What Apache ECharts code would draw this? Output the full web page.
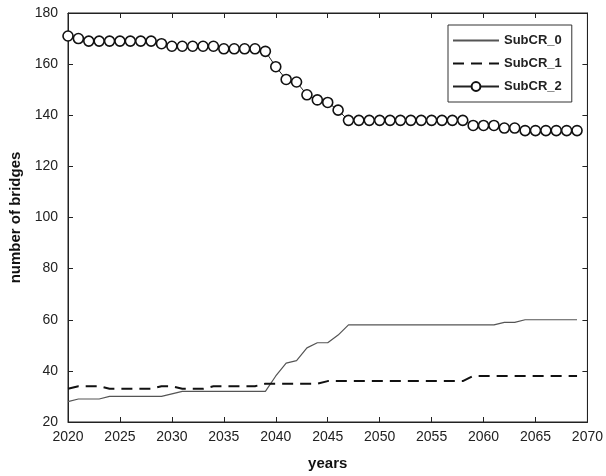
<!DOCTYPE html>
<html>
<head>
<meta charset="utf-8">
<script src="https://cdn.jsdelivr.net/npm/echarts@6/dist/echarts.min.js"></script>
<style>html,body{margin:0;padding:0;background:#fff;}#c{width:606px;height:476px;}</style>
</head>
<body>
<div id="c"></div>
<script>
var years = [];
for (var y = 2020; y <= 2069; y++) years.push(y);
var subCR0 = [28,29,29,29,30,30,30,30,30,30,31,32,32,32,32,32,32,32,32,32,38,43,44,49,51,51,54,58,58,58,58,58,58,58,58,58,58,58,58,58,58,58,59,59,60,60,60,60,60,60];
var subCR1 = [33,34,34,34,33,33,33,33,33,34,34,33,33,33,34,34,34,34,34,35,35,35,35,35,35,36,36,36,36,36,36,36,36,36,36,36,36,36,36,38,38,38,38,38,38,38,38,38,38,38];
var subCR2 = [171,170,169,169,169,169,169,169,169,168,167,167,167,167,167,166,166,166,166,165,159,154,153,148,146,145,142,138,138,138,138,138,138,138,138,138,138,138,138,136,136,136,135,135,134,134,134,134,134,134];
var seriesNames = ['SubCR_0','SubCR_1','SubCR_2'];

function pairs(v){ return v.map(function(d,i){ return [years[i], d]; }); }

var font = 'Liberation Sans, Arial, sans-serif';
var clear = 'rgba(0,0,0,0)';
var chart = echarts.init(document.getElementById('c'));
chart.setOption({
  animation: false,
  backgroundColor: '#fff',
  grid: { left: 68, right: 18, top: 13, bottom: 53, show: true, borderColor: '#222', borderWidth: 1 },
  legend: {
    orient: 'vertical', left: 448, top: 25,
    data: seriesNames,
    borderColor: '#333', borderWidth: 1, backgroundColor: '#fff',
    padding: [9, 10, 9, 4], itemWidth: 46, itemHeight: 11, itemGap: 10,
    textStyle: { fontFamily: font, fontWeight: 'bold', fontSize: 13, color: '#222' }
  },
  xAxis: [{
    type: 'value', min: 2020, max: 2070, interval: 5,
    name: 'years', nameLocation: 'middle', nameGap: 34,
    nameTextStyle: { fontFamily: font, fontWeight: 'bold', fontSize: 15, color: '#111' },
    axisLine: { lineStyle: { color: '#222' } },
    axisTick: { inside: true, length: 5, lineStyle: { color: '#222' } },
    axisLabel: { fontFamily: font, fontSize: 14, color: '#222', margin: 8, formatter: function(v){ return String(v); } },
    splitLine: { show: false }
  }, {
    type: 'value', position: 'top', min: 2020, max: 2070, interval: 5,
    axisLine: { lineStyle: { color: '#222' } },
    axisTick: { inside: true, length: 5, lineStyle: { color: '#222' } },
    axisLabel: { show: false }, splitLine: { show: false }
  }],
  yAxis: [{
    type: 'value', min: 20, max: 180, interval: 20,
    name: 'number of bridges', nameLocation: 'middle', nameGap: 41,
    nameTextStyle: { fontFamily: font, fontWeight: 'bold', fontSize: 15, color: '#111' },
    axisLine: { show: true, lineStyle: { color: '#222' } },
    axisTick: { show: true, inside: true, length: 5, lineStyle: { color: '#222' } },
    axisLabel: { fontFamily: font, fontSize: 14, color: '#222', margin: 10 },
    splitLine: { show: false }
  }, {
    type: 'value', position: 'right', min: 20, max: 180, interval: 20,
    axisLine: { show: true, lineStyle: { color: '#222' } },
    axisTick: { show: true, inside: true, length: 5, lineStyle: { color: '#222' } },
    axisLabel: { show: false }, splitLine: { show: false }
  }],
  series: [{
    name: seriesNames[0], type: 'line', data: pairs(subCR0),
    symbol: 'rect', symbolSize: 1, showSymbol: false,
    lineStyle: { color: '#555', width: 1.2 }, itemStyle: { color: clear, borderWidth: 0 }
  }, {
    name: seriesNames[1], type: 'line', data: pairs(subCR1),
    symbol: 'rect', symbolSize: 1, showSymbol: false,
    lineStyle: { color: '#111', width: 2, type: [11, 7] }, itemStyle: { color: clear, borderWidth: 0 }
  }, {
    name: seriesNames[2], type: 'line', data: pairs(subCR2),
    symbol: 'circle', symbolSize: 10, showSymbol: true,
    lineStyle: { color: '#222', width: 1 },
    itemStyle: { color: '#fff', borderColor: '#111', borderWidth: 1.6 }
  }]
});
</script>
</body>
</html>
